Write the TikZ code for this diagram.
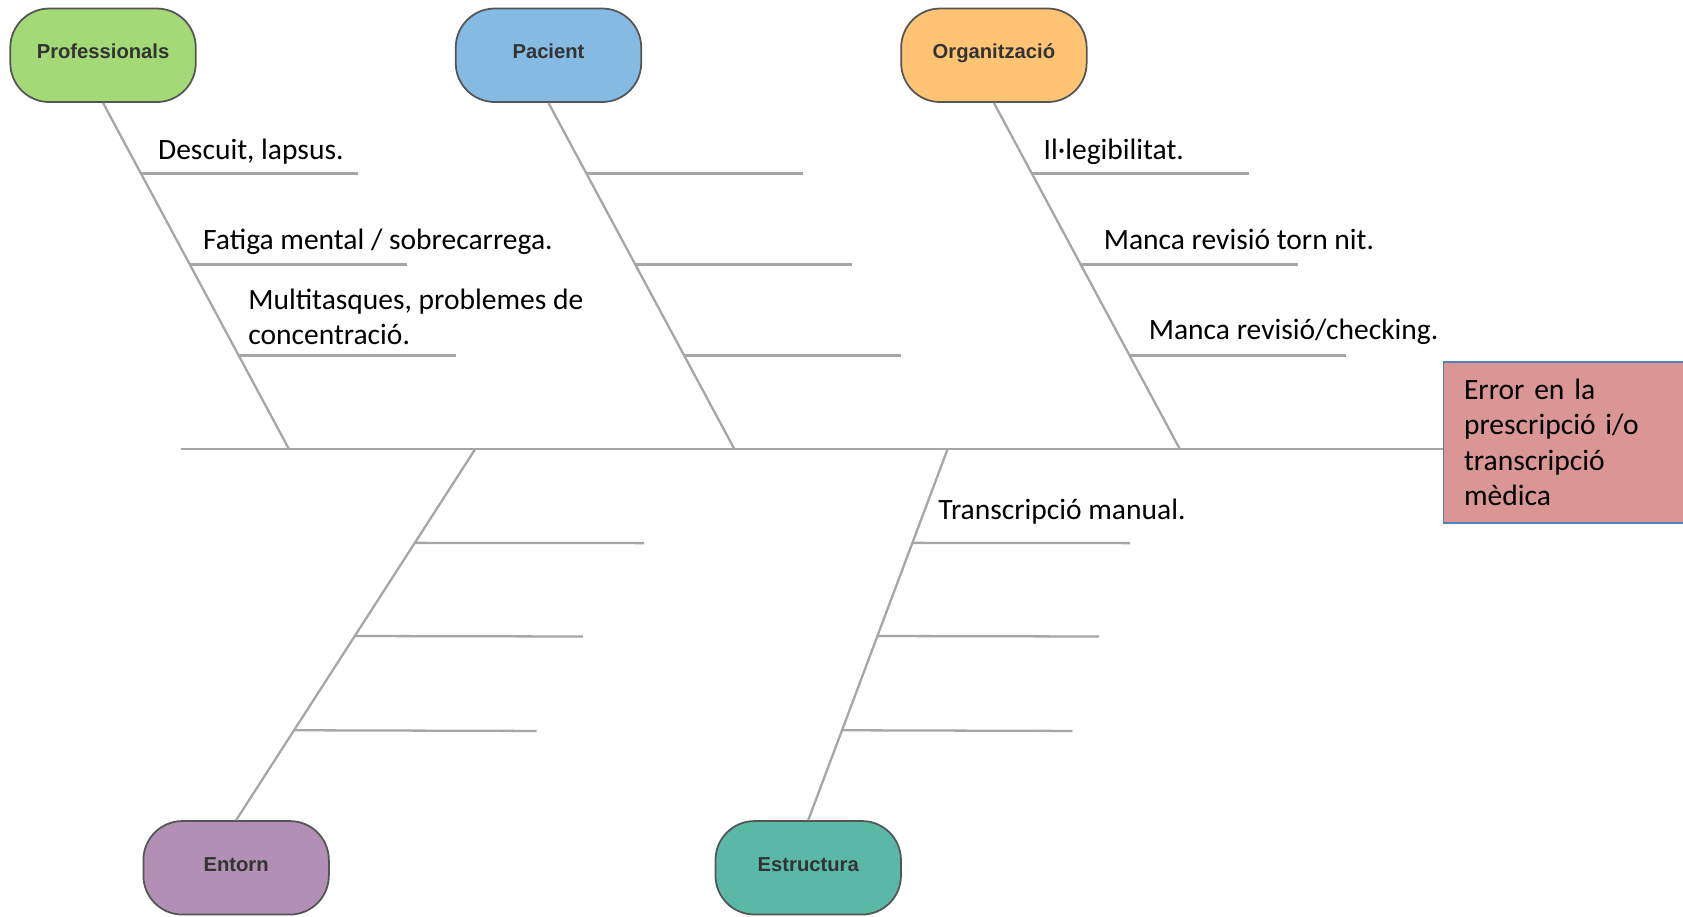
\documentclass[tikz,border=0pt]{standalone}
\usepackage{fontspec}
\setmainfont{Carlito}
\newfontfamily\boxfont{Liberation Sans}
\usetikzlibrary{calc}
\definecolor{cprof}{HTML}{A3D977}
\definecolor{cpac}{HTML}{85BAE3}
\definecolor{corg}{HTML}{FFC374}
\definecolor{cent}{HTML}{B28FB4}
\definecolor{cest}{HTML}{5AB9A6}
\definecolor{ceff}{HTML}{D99694}
\definecolor{ceffb}{HTML}{4F81BD}
\definecolor{bone}{HTML}{A6A6A6}
\definecolor{bord}{HTML}{555555}
\definecolor{btxt}{HTML}{333333}
\tikzset{
  catbox/.style={draw=bord, line width=1pt, rounded corners=0.78cm,
    minimum width=3.71cm, minimum height=1.87cm, inner sep=0pt,
    text height=8pt, text depth=4pt,
    font=\boxfont\bfseries\fontsize{11.5}{13}\selectfont, text=btxt},
  boneline/.style={draw=bone, line width=1.3pt},
  lbl/.style={anchor=base west, inner sep=0pt, font=\fontsize{16.8}{20.2}\selectfont},
  effbox/.style={draw=ceffb, line width=0.9pt, fill=ceff, minimum width=230*0.021466cm,
    minimum height=150*0.021466cm, inner xsep=19*0.021466cm, text width=192*0.021466cm,
    align=left, font=\fontsize{16.8}{20.2}\selectfont}
}
\begin{document}
\begin{tikzpicture}[x=0.021466cm, y=-0.021466cm]
\clip (0,0) rectangle (1568,854);
\fill[white] (0,0) rectangle (1568,854);

% category boxes
\node[catbox, fill=cprof] (prof) at (96,51.5) {Professionals};
\node[catbox, fill=cpac]  (pac)  at (511,51.5) {Pacient};
\node[catbox, fill=corg]  (org)  at (926,51.5) {Organització};
\node[catbox, fill=cent]  (ent)  at (220,808.5) {Entorn};
\node[catbox, fill=cest]  (est)  at (753,808.5) {Estructura};

% effect
\node[effbox] (eff) at (1460,412) {Error en la\\prescripció i/o\\transcripció\\mèdica};

% main spine
\coordinate (m0) at (169,418);
\draw[boneline] (m0) -- (m0 -| eff.west);

% junctions on spine
\coordinate (jP) at (269,418);
\coordinate (jA) at (684,418);
\coordinate (jO) at (1099,418);
\coordinate (jE) at (443,418);
\coordinate (jS) at (883,418);

\draw[boneline] (prof.south) -- (jP);
\draw[boneline] (pac.south) -- (jA);
\draw[boneline] (org.south) -- (jO);
\draw[boneline] (jE) -- (ent.north);
\draw[boneline] (jS) -- (est.north);

% upper sub-branches
\foreach \n/\j in {prof/jP, pac/jA, org/jO}{
  \draw[boneline] ($(\n.south)!0.2043!(\j)$) coordinate (\n1) -- ++(202,0) coordinate (\n1e);
  \draw[boneline] ($(\n.south)!0.4675!(\j)$) coordinate (\n2) -- ++(202,0) coordinate (\n2e);
  \draw[boneline] ($(\n.south)!0.7307!(\j)$) coordinate (\n3) -- ++(202,0) coordinate (\n3e);
}
% lower sub-branches
\draw[boneline] ($(jE)!0.2536!(ent.north)$) coordinate (e1) -- (600,506) coordinate (e1e);
\draw[boneline] ($(jE)!0.5043!(ent.north)$) coordinate (e2) -- (543,593) coordinate (e2e);
\draw[boneline] ($(jE)!0.7580!(ent.north)$) coordinate (e3) -- (500,681) coordinate (e3e);
\draw[boneline] ($(jS)!0.2536!(est.north)$) coordinate (s1) -- (1053,506) coordinate (s1e);
\draw[boneline] ($(jS)!0.5043!(est.north)$) coordinate (s2) -- (1024,593) coordinate (s2e);
\draw[boneline] ($(jS)!0.7580!(est.north)$) coordinate (s3) -- (999,681) coordinate (s3e);

% labels
\node[lbl] (t1) at (147,149) {Descuit, lapsus.};
\node[lbl] (t2) at (189,232) {Fatiga mental / sobrecarrega.};
\node[lbl, align=left] (t3) at (231,321) {Multitasques, problemes de\\concentració.};
\node[lbl] (t4) at (972,149) {Il·legibilitat.};
\node[lbl] (t5) at (1028,232) {Manca revisió torn nit.};
\node[lbl] (t6) at (1070,316) {Manca revisió/checking.};
\node[lbl] (t7) at (874,484) {Transcripció manual.};
\end{tikzpicture}
\end{document}
